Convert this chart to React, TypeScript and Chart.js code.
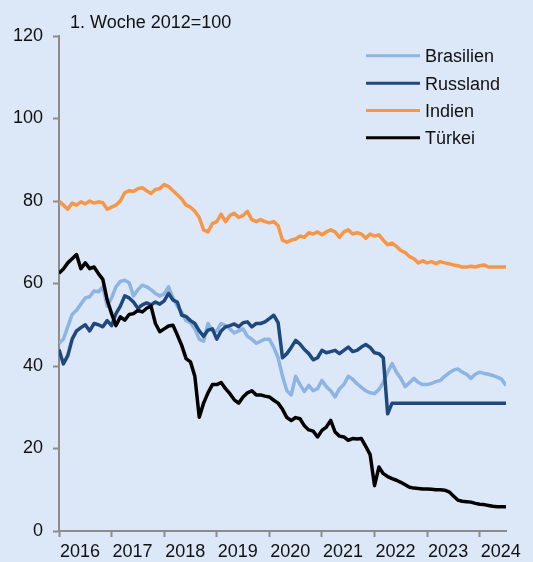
import React, { useEffect, useRef } from "react";
import { Chart, registerables } from "chart.js";

Chart.register(...registerables);

// Monthly observations, starting January 2016 (index 0) through mid-2024
const START_YEAR = 2016;
const END_YEAR = 2024.5;
const yearTicks = [2016, 2017, 2018, 2019, 2020, 2021, 2022, 2023, 2024];
const yTicks = [0, 20, 40, 60, 80, 100, 120];
const titleText = "1. Woche 2012=100";
const seriesNames = ["Brasilien", "Russland", "Indien", "Türkei"];
const seriesColors = ["#8DB4E2", "#1F497D", "#F79646", "#000000"];

const brasilien = [
  45.5, 46.5, 49.5, 52.5, 53.5, 55, 56.5, 56.8, 58.2, 58, 59.2, 54.5,
  56.5, 59.2, 60.5, 60.8, 60.2, 57, 58.5, 59.6, 59.2, 58.5, 57.6, 57,
  57.5, 59.2, 56.5, 54.5, 53, 51, 50.5, 49, 46.5, 46, 50.3, 48.5,
  48.5, 50.3, 49.8, 49, 48, 48.5, 49, 47.2, 46.5, 45.5, 46, 46.5,
  46.5, 44.5, 42, 37.5, 34, 33, 37.5, 35.5, 33.8, 35.3, 34, 34.5,
  36.5, 35, 34, 32.5, 34.5, 35.5, 37.5, 36.8, 35.7, 34.8, 34, 33.5,
  33.3, 34.3, 36, 38.5, 40.6, 38.5, 37, 35, 36, 37, 36, 35.5,
  35.5, 35.8, 36.2, 36.5, 37.5, 38.3, 39, 39.3, 38.5, 38, 37, 38,
  38.5, 38.2, 38, 37.7, 37.3, 36.8, 35.3,
];

const russland = [
  44, 40.5, 42.5, 46.5, 48.5, 49.3, 50, 48.5, 50.3, 50, 49.5, 51,
  49.8, 52.7, 54.5, 57, 56.5, 55.5, 54, 54.8, 55.3, 54.8, 55.5, 55,
  55.8, 57.6, 56, 55.5, 52.3, 52, 51, 50.3, 48.5, 47.2, 48.7, 49,
  46.5, 48.5, 49.5, 49.8, 50.2, 49.5, 50.5, 50.7, 49.5, 50.3, 50.3, 50.7,
  51.5, 52.3, 50.5, 42, 43, 44.5, 46.2, 45.3, 44, 43, 41.5, 42,
  43.8, 43.2, 43.5, 43.8, 43, 43.8, 44.6, 43.5, 43.8, 44.6, 45.2, 44.5,
  43.2, 43, 42, 28.4, 31, 31, 31, 31, 31, 31, 31, 31,
  31, 31, 31, 31, 31, 31, 31, 31, 31, 31, 31, 31,
  31, 31, 31, 31, 31, 31, 31,
];

const indien = [
  80, 79, 78, 79.5, 79, 79.8, 79.3, 80, 79.5, 79.8, 79.6, 78,
  78.5, 79, 80, 82, 82.5, 82.3, 83, 83.2, 82.5, 81.8, 82.8, 83,
  84, 83.5, 82.5, 81.5, 80.5, 79, 78.5, 77.5, 76, 73, 72.5, 74.5,
  75, 76.8, 75, 76.5, 77, 76, 76.5, 77.5, 75.5, 75, 75.5, 75,
  74.7, 75, 74, 70.5, 70, 70.5, 70.8, 71.5, 71.2, 72.3, 72, 72.5,
  71.8, 72.5, 73, 72.5, 71.2, 72.5, 73, 72, 72.3, 72, 71, 72,
  71.5, 71.8, 70.5, 69.4, 69.8, 69, 68, 67.5, 66.5, 66, 65, 65.5,
  65, 65.3, 64.8, 65.3, 65, 64.8, 64.5, 64.3, 64, 64, 64.2, 64,
  64.3, 64.5, 64, 64, 64, 64, 64,
];

const tuerkei = [
  62.5, 63.5, 65, 66, 67, 63.6, 65, 63.6, 64, 62.4, 61, 56,
  52.7, 49.8, 51.9, 51.1, 52.5, 52.7, 53.5, 53.1, 54, 54.5, 50.3, 48.3,
  49, 49.7, 49.9, 47.5, 45, 41.8, 41, 37.5, 27.6, 31, 33.5, 35.5,
  35.5, 36, 34.5, 33.3, 31.8, 31, 32.5, 33.5, 34, 33, 33, 32.7,
  32.5, 31.7, 31, 29.5, 27.5, 26.8, 27.5, 27.2, 25.5, 24.5, 24.2, 22.8,
  24.4, 25.2, 26.8, 24, 23, 22.8, 22, 22.4, 22.3, 22.4, 20.5, 18.5,
  11, 15.5, 13.9, 13.2, 12.7, 12.3, 11.8, 11.2, 10.6, 10.4, 10.3, 10.2,
  10.2, 10.1, 10, 10, 9.9, 9.5, 8.5, 7.5, 7.2, 7.1, 7, 6.7,
  6.5, 6.4, 6.2, 6, 5.9, 5.9, 5.9,
];

const allSeries = [brasilien, russland, indien, tuerkei];

const BG = "#DCE8F7";
const AXIS = "#8C8C8C";
const TEXT = "#111111";
const FONT_FAMILY = "'Liberation Sans', Arial, sans-serif";

const textPlugin = {
  id: "textOverlay",
  afterDraw(chart: any) {
    const ctx = chart.ctx;
    ctx.save();
    ctx.font = `18px ${FONT_FAMILY}`;
    ctx.fillStyle = TEXT;
    ctx.textAlign = "left";
    ctx.textBaseline = "alphabetic";
    ctx.fillText(titleText, 70, 28);
    const rowY = [55.7, 83.2, 110.5, 137.8];
    chart.data.datasets.forEach((ds: any, i: number) => {
      const y = rowY[i];
      ctx.strokeStyle = ds.borderColor;
      ctx.lineWidth = 3;
      ctx.beginPath();
      ctx.moveTo(366, y);
      ctx.lineTo(420, y);
      ctx.stroke();
      ctx.fillStyle = TEXT;
      ctx.fillText(ds.label, 425, y + 6.5);
    });
    ctx.restore();
  },
};

export default function App() {
  const ref = useRef<HTMLCanvasElement>(null);

  useEffect(() => {
    if (!ref.current) return;
    const datasets = allSeries.map((arr, k) => ({
      label: seriesNames[k],
      data: arr.map((v, i) => ({ x: START_YEAR + i / 12, y: v })),
      borderColor: seriesColors[k],
      backgroundColor: seriesColors[k],
      borderWidth: 3.5,
      pointRadius: 0,
      tension: 0,
      fill: false,
      borderJoinStyle: "round" as const,
      order: 4 - k,
    }));
    const font = { family: FONT_FAMILY, size: 18 };
    const chart = new Chart(ref.current, {
      type: "line",
      data: { datasets },
      options: {
        animation: false,
        responsive: false,
        maintainAspectRatio: false,
        layout: { padding: { top: 36, right: 27, left: 0, bottom: 0 } },
        plugins: {
          legend: { display: false },
          tooltip: { enabled: false },
          title: { display: false },
        },
        scales: {
          x: {
            type: "linear",
            min: START_YEAR,
            max: END_YEAR,
            afterBuildTicks: (s: any) => {
              s.ticks = yearTicks.map((v) => ({ value: v }));
            },
            afterFit: (s: any) => {
              s.height = 31;
            },
            grid: {
              display: true,
              drawOnChartArea: false,
              drawTicks: true,
              tickLength: 6,
              tickWidth: 2,
              tickColor: AXIS,
            },
            border: { display: true, color: AXIS, width: 2 },
            ticks: {
              autoSkip: false,
              maxRotation: 0,
              minRotation: 0,
              labelOffset: 21,
              padding: 4,
              color: TEXT,
              font,
              callback: (v: any) => String(v),
            },
          },
          y: {
            type: "linear",
            min: 0,
            max: 120,
            afterBuildTicks: (s: any) => {
              s.ticks = yTicks.map((v) => ({ value: v }));
            },
            afterFit: (s: any) => {
              s.width = 59;
            },
            grid: {
              display: true,
              drawOnChartArea: false,
              drawTicks: true,
              tickLength: 6,
              tickWidth: 2,
              tickColor: AXIS,
            },
            border: { display: true, color: AXIS, width: 2 },
            ticks: {
              padding: 10,
              color: TEXT,
              font,
              callback: (v: any) => String(v),
            },
          },
        },
      },
      plugins: [textPlugin],
    });
    return () => chart.destroy();
  }, []);

  return (
    <div
      style={{
        position: "absolute",
        left: 0,
        top: 0,
        width: 533,
        height: 562,
        background: BG,
      }}
    >
      <canvas ref={ref} width={533} height={562} style={{ display: "block" }} />
    </div>
  );
}
